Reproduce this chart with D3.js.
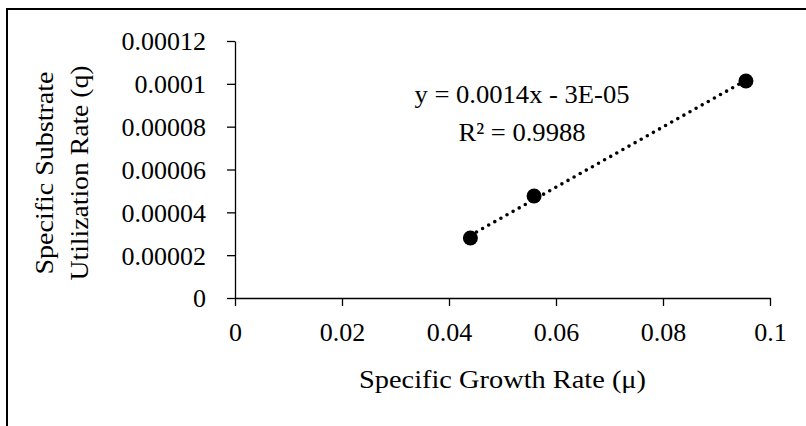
<!DOCTYPE html>
<html>
<head>
<meta charset="utf-8">
<script src="https://cdn.jsdelivr.net/npm/d3@7"></script>
<style>
  html, body { margin: 0; padding: 0; background: #fff; }
  svg { display: block; }
  text { font-family: "Liberation Serif", "Times New Roman", serif; fill: #000; }
</style>
</head>
<body>
<div id="chart"></div>
<script>
const growthRate = [0.044, 0.0559, 0.0955];
const substrateRate = [0.000028, 0.0000476, 0.0001013];
const xTicks = [0, 0.02, 0.04, 0.06, 0.08, 0.1];
const xTickLabels = ["0", "0.02", "0.04", "0.06", "0.08", "0.1"];
const yTicks = [0, 0.00002, 0.00004, 0.00006, 0.00008, 0.0001, 0.00012];
const yTickLabels = ["0", "0.00002", "0.00004", "0.00006", "0.00008", "0.0001", "0.00012"];
const equationLines = ["y = 0.0014x - 3E-05", "R² = 0.9988"];
const xTitle = "Specific Growth Rate (μ)";
const yTitleLines = ["Specific Substrate", "Utilization Rate (q)"];

const width = 806;
const height = 426;
const margin = { top: 41, right: 36, bottom: 128, left: 235 };
const fontSize = 26;

const svg = d3.select("#chart")
  .append("svg")
  .attr("width", width)
  .attr("height", height);

// outer chart border (runs off the right and bottom edges)
svg.append("rect")
  .attr("x", 7)
  .attr("y", 9)
  .attr("width", width + 20)
  .attr("height", height + 20)
  .attr("fill", "none")
  .attr("stroke", "#000")
  .attr("stroke-width", 2);

const x = d3.scaleLinear()
  .domain([0, 0.1])
  .range([margin.left, width - margin.right]);

const y = d3.scaleLinear()
  .domain([0, 0.00012])
  .range([height - margin.bottom, margin.top]);

const xAxis = svg.append("g")
  .attr("transform", `translate(0,${y(0)})`)
  .call(d3.axisBottom(x)
    .tickValues(xTicks)
    .tickSize(8)
    .tickSizeOuter(0)
    .tickPadding(15)
    .tickFormat((d, i) => xTickLabels[i]));

const yAxis = svg.append("g")
  .attr("transform", `translate(${x(0)},0)`)
  .call(d3.axisLeft(y)
    .tickValues(yTicks)
    .tickSize(8)
    .tickSizeOuter(0)
    .tickPadding(21)
    .tickFormat((d, i) => yTickLabels[i]));

[xAxis, yAxis].forEach((g) => {
  g.selectAll("path, line").attr("stroke", "#000").attr("stroke-width", 1.3);
  g.selectAll("text")
    .attr("font-family", "Liberation Serif, serif")
    .attr("font-size", fontSize)
    .attr("fill", "#000");
});
yAxis.selectAll("text").attr("dy", "0.34em");
xAxis.selectAll("text").attr("dy", "0.75em");

// linear trendline fitted to the points
const n = growthRate.length;
const mx = d3.mean(growthRate);
const my = d3.mean(substrateRate);
const slope =
  d3.sum(growthRate, (v, i) => (v - mx) * (substrateRate[i] - my)) /
  d3.sum(growthRate, (v) => (v - mx) * (v - mx));
const intercept = my - slope * mx;
const [x0, x1] = d3.extent(growthRate);

svg.append("line")
  .attr("x1", x(x0))
  .attr("y1", y(slope * x0 + intercept))
  .attr("x2", x(x1))
  .attr("y2", y(slope * x1 + intercept))
  .attr("stroke", "#000")
  .attr("stroke-width", 3.6)
  .attr("stroke-linecap", "round")
  .attr("stroke-dasharray", "0 7");

svg.append("g")
  .selectAll("circle")
  .data(d3.range(n))
  .join("circle")
  .attr("cx", (i) => x(growthRate[i]))
  .attr("cy", (i) => y(substrateRate[i]))
  .attr("r", 7.5)
  .attr("fill", "#000");

// equation label
svg.append("g")
  .selectAll("text")
  .data(equationLines)
  .join("text")
  .attr("x", 522)
  .attr("y", (d, i) => 103 + i * 38)
  .attr("text-anchor", "middle")
  .attr("font-size", fontSize)
  .attr("textLength", (d, i) => (i === 0 ? 215 : 127))
  .attr("lengthAdjust", "spacingAndGlyphs")
  .text((d) => d);

svg.append("text")
  .attr("x", (x(0) + x(0.1)) / 2)
  .attr("y", 388)
  .attr("text-anchor", "middle")
  .attr("font-size", fontSize)
  .attr("textLength", 287)
  .attr("lengthAdjust", "spacingAndGlyphs")
  .text(xTitle);

svg.append("g")
  .selectAll("text")
  .data(yTitleLines)
  .join("text")
  .attr("transform", (d, i) => `translate(${53 + i * 35},173) rotate(-90)`)
  .attr("text-anchor", "middle")
  .attr("font-size", fontSize)
  .attr("textLength", (d, i) => (i === 0 ? 203 : 215))
  .attr("lengthAdjust", "spacingAndGlyphs")
  .text((d) => d);
</script>
</body>
</html>
